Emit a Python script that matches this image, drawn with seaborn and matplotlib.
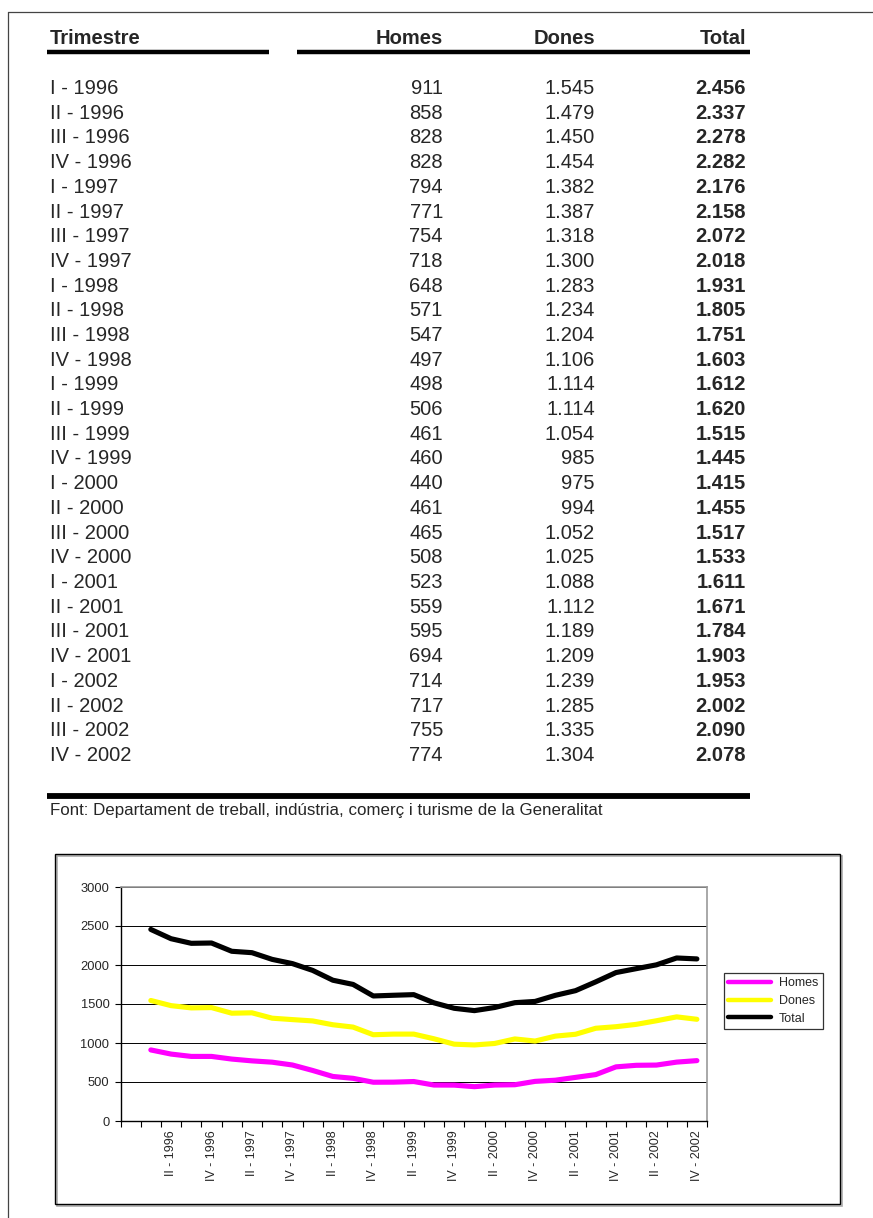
import numpy as np
import pandas as pd
import matplotlib
matplotlib.use('Agg')
import matplotlib.pyplot as plt
from matplotlib.lines import Line2D
from matplotlib.patches import Rectangle
import seaborn as sns

trimestres = [
    'I - 1996', 'II - 1996', 'III - 1996', 'IV - 1996',
    'I - 1997', 'II - 1997', 'III - 1997', 'IV - 1997',
    'I - 1998', 'II - 1998', 'III - 1998', 'IV - 1998',
    'I - 1999', 'II - 1999', 'III - 1999', 'IV - 1999',
    'I - 2000', 'II - 2000', 'III - 2000', 'IV - 2000',
    'I - 2001', 'II - 2001', 'III - 2001', 'IV - 2001',
    'I - 2002', 'II - 2002', 'III - 2002', 'IV - 2002',
]
homes = [911, 858, 828, 828, 794, 771, 754, 718, 648, 571, 547, 497, 498, 506,
         461, 460, 440, 461, 465, 508, 523, 559, 595, 694, 714, 717, 755, 774]
dones = [1545, 1479, 1450, 1454, 1382, 1387, 1318, 1300, 1283, 1234, 1204, 1106,
         1114, 1114, 1054, 985, 975, 994, 1052, 1025, 1088, 1112, 1189, 1209,
         1239, 1285, 1335, 1304]
total = [2456, 2337, 2278, 2282, 2176, 2158, 2072, 2018, 1931, 1805, 1751, 1603,
         1612, 1620, 1515, 1445, 1415, 1455, 1517, 1533, 1611, 1671, 1784, 1903,
         1953, 2002, 2090, 2078]
columnes = ['Trimestre', 'Homes', 'Dones', 'Total']
font_text = 'Font: Departament de treball, indústria, comerç i turisme de la Generalitat'

# the chart in the original has an empty first category
categories = [''] + trimestres

W, H = 873, 1218


def fx(x):
    return x / W


def fy(y):
    return 1 - y / H


def fmt(v):
    return f'{v:,}'.replace(',', '.')


sns.set_style('white')
plt.rcParams['font.family'] = ['Liberation Sans', 'DejaVu Sans']

fig = plt.figure(figsize=(W / 100, H / 100), dpi=100)

# page border
fig.add_artist(Line2D([fx(8), fx(873)], [fy(12), fy(12)], transform=fig.transFigure,
                      color='#444444', lw=0.9))
fig.add_artist(Line2D([fx(8), fx(8)], [fy(12), fy(1218)], transform=fig.transFigure,
                      color='#444444', lw=0.9))

# table
fs = 14.5
col_x = [50, 443, 595, 746]
fig.text(fx(col_x[0]), fy(38), columnes[0], fontsize=fs, fontweight='bold',
         ha='left', va='center')
for name, x in zip(columnes[1:], col_x[1:]):
    fig.text(fx(x), fy(38), name, fontsize=fs, fontweight='bold', ha='right', va='center')

fig.add_artist(Line2D([fx(47), fx(269)], [fy(52), fy(52)], transform=fig.transFigure,
                      color='black', lw=3.2, solid_capstyle='butt'))
fig.add_artist(Line2D([fx(297), fx(750)], [fy(52), fy(52)], transform=fig.transFigure,
                      color='black', lw=3.2, solid_capstyle='butt'))

row_h = 24.7
for i, t in enumerate(trimestres):
    y = fy(88.5 + i * row_h)
    fig.text(fx(col_x[0]), y, t, fontsize=fs, ha='left', va='center')
    fig.text(fx(col_x[1]), y, fmt(homes[i]), fontsize=fs, ha='right', va='center')
    fig.text(fx(col_x[2]), y, fmt(dones[i]), fontsize=fs, ha='right', va='center')
    fig.text(fx(col_x[3]), y, fmt(total[i]), fontsize=fs, fontweight='bold',
             ha='right', va='center')

fig.add_artist(Line2D([fx(47), fx(750)], [fy(796), fy(796)], transform=fig.transFigure,
                      color='black', lw=4.2, solid_capstyle='butt'))
fig.text(fx(50), fy(811), font_text, fontsize=12.2, ha='left', va='center')

# chart box
fig.add_artist(Rectangle((fx(57), fy(1206)), (842 - 57) / W, (1206 - 856) / H,
                         transform=fig.transFigure, fill=False,
                         edgecolor='#aaaaaa', lw=1.2))
fig.add_artist(Rectangle((fx(55), fy(1204)), (840 - 55) / W, (1204 - 854) / H,
                         transform=fig.transFigure, fill=False,
                         edgecolor='black', lw=1.0))

ax = fig.add_axes([fx(120.5), fy(1121), (707 - 120.5) / W, (1121 - 887) / H])

df = pd.DataFrame({
    'pos': np.tile(np.arange(1, len(categories)) + 0.5, 3),
    'valor': homes + dones + total,
    'serie': ['Homes'] * len(homes) + ['Dones'] * len(dones) + ['Total'] * len(total),
})
palette = {'Homes': '#FF00FF', 'Dones': '#FFFF00', 'Total': '#000000'}
sns.lineplot(data=df, x='pos', y='valor', hue='serie', palette=palette,
             linewidth=3.7, sort=False, estimator=None, ax=ax, zorder=3)

ax.set_xlim(0, len(categories))
ax.set_ylim(0, 3000)
ax.set_yticks(np.arange(0, 3001, 500))
ax.set_xticks(np.arange(0, len(categories) + 1))
ax.set_xticklabels([])
ax.set_xticks(np.arange(0, len(categories), 2) + 0.5, minor=True)
ax.set_xticklabels(categories[::2], minor=True, rotation=90, fontsize=9)
ax.tick_params(axis='x', which='major', direction='out', length=4, width=0.8,
               color='black', bottom=True)
ax.tick_params(axis='x', which='minor', length=0, pad=6.5, bottom=True)
ax.tick_params(axis='y', direction='out', length=4, width=0.8, color='black',
               labelsize=9.3, pad=4, left=True)
ax.set_xlabel('')
ax.set_ylabel('')

ax.grid(axis='y', color='black', lw=0.7, zorder=0)
ax.grid(axis='x', visible=False)
ax.set_axisbelow(True)
for side in ['left', 'bottom']:
    ax.spines[side].set_color('black')
    ax.spines[side].set_linewidth(1.0)
for side in ['top', 'right']:
    ax.spines[side].set_color('#999999')
    ax.spines[side].set_linewidth(1.2)

sns.move_legend(ax, 'upper left', bbox_to_anchor=(fx(724), fy(973)),
                bbox_transform=fig.transFigure, title=None, frameon=True,
                fancybox=False, edgecolor='black', fontsize=9, handlelength=3.4,
                handletextpad=0.65, borderpad=0.35, labelspacing=0.45,
                borderaxespad=0)
leg = ax.get_legend()
leg.get_frame().set_linewidth(0.9)
for line in leg.get_lines():
    line.set_linewidth(3.2)

fig.savefig('out.png', dpi=100)
